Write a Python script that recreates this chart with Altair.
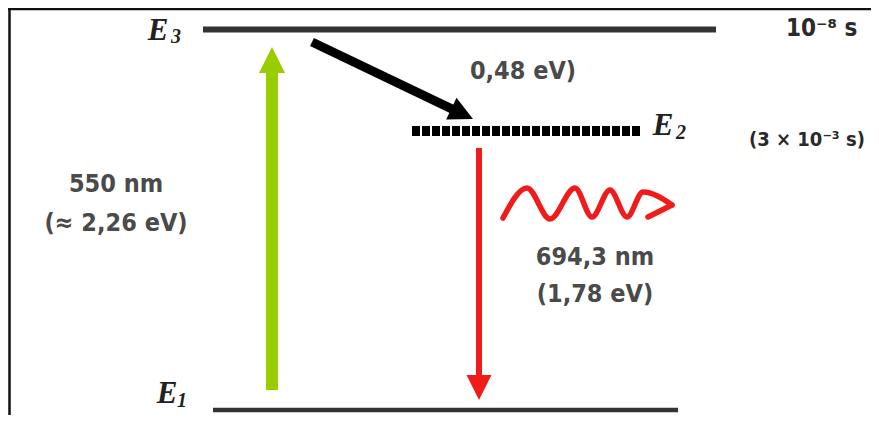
import math
import altair as alt
import pandas as pd

# ---------------- data (diagram coordinates) ----------------
level_names = ["E1", "E2", "E3"]
level_subs = ["1", "2", "3"]
level_y = [410, 131, 29.5]
level_x_start = [213, 412, 203]
level_x_end = [678, 640, 716]
level_label_x = [167, 663, 158]
level_label_y = [394, 126, 31]
level_sub_x = [182, 681, 176]
level_sub_y = [401, 133, 37]

arrow_names = ["pump", "decay", "laser"]
arrow_x0 = [272, 312, 479]
arrow_y0 = [390, 42, 148]
arrow_x1 = [272, 473, 479]
arrow_y1 = [47, 119, 400]

wave_x = [503, 527, 550, 575, 592, 610, 627, 643, 672]
wave_y = [218, 188, 219, 188, 217, 190, 217, 192, 205]
chevron_x = [648, 672]
chevron_y = [217, 205]

annot_text = ["0,48 eV)", "550 nm", "(≈ 2,26 eV)", "694,3 nm", "(1,78 eV)"]
annot_x = [523, 116, 116, 595, 595]
annot_y = [71, 184, 223, 257, 294]

life_text = ["10⁻⁸ s", "(3 × 10⁻³ s)"]
life_x = [786, 749]
life_y = [29, 140]

# ---------------- styles ----------------
LEVEL_WIDTH = {"E1": 4.5, "E3": 6}
ARROW_STYLE = {  # colour, shaft width, head size
    "pump": ("#9acd00", 12, 26),
    "decay": ("#000000", 9, 24),
    "laser": ("#f01c1c", 6, 25),
}
LIFE_SIZE = [24, 20]
RED = "#f01c1c"
TEXT_FONT = "DejaVu Sans Condensed, DejaVu Sans"
LABEL_FONT = "Liberation Serif"

# the page is 879x423 with an 8px body margin -> plot area 863x407
W, H = 863, 407
XS = alt.Scale(domain=[8, 8 + W], nice=False, zero=False)
YS = alt.Scale(domain=[8, 8 + H], nice=False, zero=False, reverse=True)


def X(f):
    return alt.X(f, type="quantitative", scale=XS, axis=None)


def Y(f):
    return alt.Y(f, type="quantitative", scale=YS, axis=None)


# ---------------- tables ----------------
levels = pd.DataFrame({
    "name": level_names, "sub": level_subs, "y": level_y,
    "x0": level_x_start, "x1": level_x_end,
    "lx": level_label_x, "ly": level_label_y,
    "sx": level_sub_x, "sy": level_sub_y,
})
levels["sw"] = [LEVEL_WIDTH.get(n, 0) for n in levels["name"]]
levels["E"] = "E"

rows = []
for n, x0, y0, x1, y1 in zip(arrow_names, arrow_x0, arrow_y0, arrow_x1, arrow_y1):
    col, sw, hs = ARROW_STYLE[n]
    dx, dy = x1 - x0, y1 - y0
    L = math.hypot(dx, dy)
    ux, uy = dx / L, dy / L
    cx, cy = x1 - ux * hs / 2, y1 - uy * hs / 2
    rows.append(dict(name=n, x0=x0, y0=y0, xe=cx, ye=cy, cx=cx, cy=cy,
                     angle=math.degrees(math.atan2(dy, dx)) % 360,
                     color=col, sw=sw, size=hs * hs))
arrows = pd.DataFrame(rows)

wave = pd.DataFrame({"x": wave_x, "y": wave_y, "i": list(range(len(wave_x)))})
chev = pd.DataFrame({"x": chevron_x, "y": chevron_y, "i": [0, 1]})
annots = pd.DataFrame({"t": annot_text, "x": annot_x, "y": annot_y})
lives = pd.DataFrame({"t": life_text, "x": life_x, "y": life_y, "fs": LIFE_SIZE})

# ---------------- layers ----------------
one = pd.DataFrame({"a": [0]})
frame_top = alt.Chart(one).mark_rule(color="#111", strokeWidth=2.5).encode(
    x=alt.value(0), x2=alt.value(W), y=alt.value(1))
frame_left = alt.Chart(one).mark_rule(color="#111", strokeWidth=2.5).encode(
    x=alt.value(1.5), y=alt.value(0), y2=alt.value(H))

solid_levels = alt.Chart(levels).transform_filter("datum.sw > 0").mark_rule(
    color="#333333", strokeCap="butt").encode(
    x=X("x0"), x2="x1", y=Y("y"), strokeWidth=alt.StrokeWidth("sw:Q", scale=None))
dashed_level = alt.Chart(levels).transform_filter("datum.sw == 0").mark_rule(
    color="#000000", strokeCap="butt", strokeWidth=10, strokeDash=[8, 2]).encode(
    x=X("x0"), x2="x1", y=Y("y"))

shafts = alt.Chart(arrows).mark_rule(strokeCap="butt").encode(
    x=X("x0"), y=Y("y0"), x2="xe", y2="ye",
    color=alt.Color("color:N", scale=None),
    strokeWidth=alt.StrokeWidth("sw:Q", scale=None))
heads = alt.Chart(arrows).mark_point(
    shape="M1,0L-1,-1L-1,1Z", filled=True, opacity=1, strokeWidth=0).encode(
    x=X("cx"), y=Y("cy"),
    color=alt.Color("color:N", scale=None),
    size=alt.Size("size:Q", scale=None),
    angle=alt.Angle("angle:Q", scale=None))

wave_line = alt.Chart(wave).mark_line(
    interpolate="monotone", color=RED, strokeWidth=5.5, strokeCap="round",
    strokeJoin="round").encode(x=X("x"), y=Y("y"), order="i:Q")
chev_line = alt.Chart(chev).mark_line(
    color=RED, strokeWidth=5.5, strokeCap="round").encode(
    x=X("x"), y=Y("y"), order="i:Q")

annot_layer = alt.Chart(annots).mark_text(
    font=TEXT_FONT, fontWeight="bold", fontSize=25, color="#4a4a4a",
    align="center", baseline="middle").encode(x=X("x"), y=Y("y"), text="t:N")
life_layer = alt.Chart(lives).mark_text(
    font=TEXT_FONT, fontWeight="bold", color="#2a2a2a",
    align="left", baseline="middle").encode(
    x=X("x"), y=Y("y"), text="t:N", size=alt.Size("fs:Q", scale=None))

E_layer = alt.Chart(levels).mark_text(
    font=LABEL_FONT, fontWeight="bold", fontStyle="italic", fontSize=31,
    color="#222222", align="center", baseline="middle").encode(
    x=X("lx"), y=Y("ly"), text="E:N")
sub_layer = alt.Chart(levels).mark_text(
    font=LABEL_FONT, fontWeight="bold", fontStyle="italic", fontSize=20,
    color="#222222", align="center", baseline="middle").encode(
    x=X("sx"), y=Y("sy"), text="sub:N")

chart = alt.layer(
    frame_top, frame_left, solid_levels, dashed_level, shafts, heads,
    wave_line, chev_line, annot_layer, life_layer, E_layer, sub_layer,
).properties(
    width=W, height=H, padding=0,
    autosize=alt.AutoSizeParams(type="none"),
).configure_view(stroke=None)

chart.save("out.html", embed_options={"renderer": "svg", "actions": False})
